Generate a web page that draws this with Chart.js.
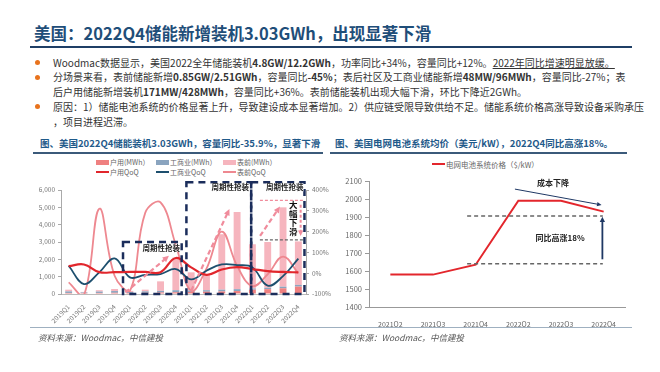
<!DOCTYPE html>
<html>
<head>
<meta charset="utf-8">
<script src="https://cdn.jsdelivr.net/npm/chart.js@4/dist/chart.umd.min.js"></script>
<style>
  body { margin: 0; background: #fff; font-family: "Noto Sans CJK SC", "Noto Sans", sans-serif; }
  #slide { position: relative; width: 660px; height: 372px; overflow: hidden; }
  .abs { position: absolute; white-space: nowrap; }
  .title { left: 34px; top: 22px; font-size: 16.5px; font-weight: bold; color: #1f4e79; line-height: 22px; }
  .rule { position: absolute; }
  .txt { left: 53px; font-size: 10px; color: #333; line-height: 14px; }
  .dot { position: absolute; left: 35px; width: 5px; height: 5px; border-radius: 50%; background: #e8731d; }
  .sub { font-size: 9.5px; font-weight: bold; color: #1f5a8a; line-height: 14px; top: 136px; }
  .src { font-size: 8.5px; font-style: italic; color: #555; top: 331px; line-height: 12px; }
  .lg { font-size: 7px; color: #666; line-height: 9px; }
  .sw { position: absolute; }
  canvas { position: absolute; }
</style>
</head>
<body>
<div id="slide">
  <div class="abs title">美国：2022Q4储能新增装机3.03GWh，出现显著下滑</div>
  <div class="rule" style="left:30px;top:46px;width:602px;height:2px;background:#1f3f66"></div>

  <div class="dot" style="top:60px"></div>
  <div class="abs txt" style="top:56px">Woodmac数据显示，美国2022全年储能装机<b>4.8GW/12.2GWh</b>，功率同比+34%，容量同比+12%。<u>2022年同比增速明显放缓。</u></div>
  <div class="dot" style="top:75px"></div>
  <div class="abs txt" style="top:70px">分场景来看，表前储能新增<b>0.85GW/2.51GWh</b>，容量同比<b>-45%</b>；表后社区及工商业储能新增<b>48MW/96MWh</b>，容量同比-27%；表</div>
  <div class="abs txt" style="top:85px">后户用储能新增装机<b>171MW/428MWh</b>，容量同比+36%。表前储能装机出现大幅下滑，环比下降近2GWh。</div>
  <div class="dot" style="top:104px"></div>
  <div class="abs txt" style="top:100px">原因：1）储能电池系统的价格显著上升，导致建设成本显著增加。2）供应链受限导致供给不足。储能系统价格高涨导致设备采购承压</div>
  <div class="abs txt" style="top:115px">，项目进程迟滞。</div>

  <div class="abs sub" style="left:40px">图、美国2022Q4储能装机3.03GWh，容量同比-35.9%，显著下滑</div>
  <div class="rule" style="left:33px;top:152px;width:290px;height:1.5px;background:#3b5a7a"></div>
  <div class="abs sub" style="left:335px">图、美国电网电池系统均价（美元/kW），2022Q4同比高涨18%。</div>
  <div class="rule" style="left:330px;top:152px;width:297px;height:1.5px;background:#3b5a7a"></div>

  <div id="legendLeft"></div>
  <div id="legendRight"></div>

  <canvas id="left" width="322" height="152" style="left:20px;top:176px"></canvas>
  <canvas id="right" width="300" height="155" style="left:330px;top:172px"></canvas>

  <div class="rule" style="left:30px;top:327px;width:602px;height:1px;background:#9fb0c0"></div>
  <div class="abs src" style="left:38px">资料来源：Woodmac，中信建投</div>
  <div class="abs src" style="left:339px">资料来源：Woodmac，中信建投</div>
</div>

<script>
// 左图：美国季度储能装机（MWh）及环比
const quarters = ['2019Q1', '2019Q2', '2019Q3', '2019Q4', '2020Q1', '2020Q2', '2020Q3', '2020Q4',
  '2021Q1', '2021Q2', '2021Q3', '2021Q4', '2022Q1', '2022Q2', '2022Q3', '2022Q4'];
const residentialMWh = [60, 50, 60, 70, 60, 70, 90, 100, 120, 130, 150, 170, 250, 280, 330, 428];
const commercialMWh = [90, 40, 80, 100, 60, 80, 90, 120, 80, 90, 100, 110, 70, 80, 90, 96];
const frontMWh = [100, 30, 80, 120, 60, 100, 550, 1880, 1050, 930, 3200, 4450, 2550, 2640, 4580, 2510];
const residentialQoQ = [34, 42, 5, 5, 6, 6, 5, 73, 28, -8, 18, 29, 20, 10, 6, 4];
const commercialQoQ = [36, -52, 4, 71, -20, -8, -4, 20, -30, 12, 42, 39, 28, -60, -14, 70];
const frontQoQ = [-44, -105, 310, -12, -85, 290, 340, 135, -85, 22, 200, 35, -62, -5, 80, 0];

// 右图：电网电池系统价格（$/kW）
const priceQuarters = ['2021Q2', '2021Q3', '2021Q4', '2022Q2', '2022Q3', '2022Q4'];
const priceValues = [1580, 1580, 1635, 1990, 1990, 1930];

const FONT = '"Noto Sans CJK SC", sans-serif';

function arrow(ctx, x1, y1, x2, y2, head) {
  const a = Math.atan2(y2 - y1, x2 - x1);
  ctx.beginPath();
  ctx.moveTo(x1, y1);
  ctx.lineTo(x2 - Math.cos(a) * head * 0.8, y2 - Math.sin(a) * head * 0.8);
  ctx.stroke();
  ctx.save();
  ctx.setLineDash([]);
  ctx.beginPath();
  ctx.moveTo(x2, y2);
  ctx.lineTo(x2 - head * Math.cos(a - 0.45), y2 - head * Math.sin(a - 0.45));
  ctx.lineTo(x2 - head * Math.cos(a + 0.45), y2 - head * Math.sin(a + 0.45));
  ctx.closePath();
  ctx.fill();
  ctx.restore();
}

// 周期性抢装 标注（类别序号 + 数值）
const surgeBoxes = [
  { from: 3.55, to: 7.38, top: 3000 },
  { from: 7.69, to: 11.92, top: 6450 },
  { from: 11.92, to: 15.4, top: 6450 }
];
const surgeLabels = [{ at: 6.05, v: 2650 }, { at: 10.55, v: 6150 }, { at: 14.12, v: 6150 }];
const surgeArrows = [
  { x1: 3.7, v1: 90, x2: 6.55, v2: 2200 },
  { x1: 8.0, v1: 190, x2: 10.5, v2: 4900 },
  { x1: 12.5, v1: 3350, x2: 13.8, v2: 5050 }
];

const leftNotes = {
  id: 'leftNotes',
  afterDatasetsDraw(chart) {
    const { ctx, scales: { x, y } } = chart;
    const px = i => x.getPixelForValue(i);
    const py = v => y.getPixelForValue(v);
    ctx.save();

    // 粉色虚线箭头
    ctx.strokeStyle = '#f08c9c';
    ctx.fillStyle = '#f08c9c';
    ctx.lineWidth = 2.2;
    ctx.setLineDash([5, 3]);
    surgeArrows.forEach(a => arrow(ctx, px(a.x1), py(a.v1), px(a.x2), py(a.v2), 7));

    // 大幅下滑 区域
    ctx.lineWidth = 1.2;
    ctx.setLineDash([3, 2]);
    ctx.beginPath();
    ctx.moveTo(px(12.49), py(5400)); ctx.lineTo(px(15.4), py(5400));
    ctx.stroke();
    ctx.strokeStyle = '#666';
    ctx.beginPath();
    ctx.moveTo(px(12.49), py(3120)); ctx.lineTo(px(15.4), py(3120));
    ctx.stroke();
    ctx.strokeStyle = '#f08c9c';
    ctx.lineWidth = 2;
    arrow(ctx, px(15.15), py(5150), px(15.15), py(3350), 6);

    ctx.setLineDash([]);
    ctx.fillStyle = '#111';
    ctx.font = 'bold 8.5px ' + FONT;
    ctx.textAlign = 'center';
    ctx.textBaseline = 'middle';
    ['大', '幅', '下', '滑'].forEach((c, k) => ctx.fillText(c, px(14.66), py(5140 - k * 520)));

    // 深蓝虚线框
    ctx.strokeStyle = '#1b2d5b';
    ctx.lineWidth = 2.5;
    ctx.setLineDash([7, 5]);
    surgeBoxes.forEach(b => {
      ctx.strokeRect(px(b.from), py(b.top), px(b.to) - px(b.from), py(0) - py(b.top));
    });

    ctx.setLineDash([]);
    ctx.font = 'bold 7.5px ' + FONT;
    surgeLabels.forEach(l => {
      const w = ctx.measureText('周期性抢装').width;
      ctx.fillStyle = 'rgba(255,255,255,0.7)';
      ctx.fillRect(px(l.at) - w / 2, py(l.v) - 4, w, 8);
      ctx.fillStyle = '#222';
      ctx.fillText('周期性抢装', px(l.at), py(l.v));
    });
    ctx.restore();
  }
};

const tickFont = size => ({ size: size, family: FONT });

const storageChart = new Chart(document.getElementById('left'), {
  type: 'bar',
  data: {
    labels: quarters,
    datasets: [
      { label: '户用(MWh）', data: residentialMWh, backgroundColor: '#ef8080', yAxisID: 'y', order: 2 },
      { label: '工商业(MWh）', data: commercialMWh, backgroundColor: '#8aa4bf', yAxisID: 'y', order: 2 },
      { label: '表前(MWh）', data: frontMWh, backgroundColor: '#f6b5be', yAxisID: 'y', order: 2 },
      { type: 'line', label: '户用QoQ', data: residentialQoQ, borderColor: '#e1262c', borderWidth: 2.2,
        yAxisID: 'y1', tension: 0.4, pointRadius: 0, order: 0 },
      { type: 'line', label: '工商业QoQ', data: commercialQoQ, borderColor: '#1d4f6e', borderWidth: 1.8,
        yAxisID: 'y1', tension: 0.4, pointRadius: 0, order: 1 },
      { type: 'line', label: '表前QoQ', data: frontQoQ, borderColor: '#ee8890', borderWidth: 1.8,
        yAxisID: 'y1', tension: 0.4, pointRadius: 0, order: 1 }
    ]
  },
  options: {
    responsive: false,
    animation: false,
    layout: { padding: { top: 14 } },
    categoryPercentage: 0.9,
    barPercentage: 0.5,
    plugins: { legend: { display: false }, tooltip: { enabled: false } },
    scales: {
      x: {
        stacked: true,
        grid: { display: false },
        border: { color: '#bbb' },
        ticks: { font: tickFont(6.5), color: '#777', minRotation: 45, maxRotation: 45, padding: 1, autoSkip: false },
        afterFit: s => { s.height = 34; }
      },
      y: {
        stacked: true, min: 0, max: 6000,
        ticks: { stepSize: 1000, font: tickFont(6.5), color: '#777', padding: 3 },
        grid: { drawOnChartArea: false, tickLength: 3, color: '#aaa' },
        border: { color: '#aaa' },
        afterFit: s => { s.width = 41; }
      },
      y1: {
        position: 'right', stacked: false, min: -100, max: 400,
        ticks: { stepSize: 50, font: tickFont(6.5), color: '#777', padding: 3, callback: v => v + '%' },
        grid: { drawOnChartArea: false, tickLength: 3, color: '#aaa' },
        border: { color: '#aaa' },
        afterFit: s => { s.width = 36; }
      }
    }
  },
  plugins: [leftNotes]
});

const rightNotes = {
  id: 'rightNotes',
  afterDatasetsDraw(chart) {
    const { ctx, scales: { x, y } } = chart;
    const px = i => x.getPixelForValue(i);
    const py = v => y.getPixelForValue(v);
    ctx.save();
    ctx.strokeStyle = '#666';
    ctx.lineWidth = 1.5;
    ctx.setLineDash([4, 3]);
    [1905, 1640].forEach(v => {
      ctx.beginPath();
      ctx.moveTo(px(1.8), py(v)); ctx.lineTo(px(4.98), py(v));
      ctx.stroke();
    });
    ctx.setLineDash([]);
    ctx.strokeStyle = '#1f3864';
    ctx.fillStyle = '#1f3864';
    ctx.lineWidth = 1.8;
    arrow(ctx, px(4.97), py(1665), px(4.97), py(1902), 6);
    ctx.lineWidth = 1;
    arrow(ctx, px(2.92), py(2055), px(4.95), py(1967), 5);

    ctx.fillStyle = '#222';
    ctx.font = 'bold 8px ' + FONT;
    ctx.textAlign = 'center';
    ctx.textBaseline = 'middle';
    ctx.fillText('同比高涨18%', px(3.98), py(1783));
    ctx.fillText('成本下降', px(3.81), py(2090));
    ctx.restore();
  }
};

const priceChart = new Chart(document.getElementById('right'), {
  type: 'line',
  data: {
    labels: priceQuarters,
    datasets: [{
      label: '电网电池系统价格（$/kW）',
      data: priceValues,
      borderColor: '#e3262c',
      borderWidth: 2,
      pointRadius: 0,
      tension: 0
    }]
  },
  options: {
    responsive: false,
    animation: false,
    layout: { padding: { top: 9, right: 5 } },
    plugins: { legend: { display: false }, tooltip: { enabled: false } },
    scales: {
      x: {
        offset: true,
        grid: { display: false },
        border: { color: '#999' },
        ticks: { font: tickFont(7), color: '#666', padding: 5, maxRotation: 0 },
        afterFit: s => { s.height = 20; }
      },
      y: {
        min: 1400, max: 2100,
        ticks: { stepSize: 100, font: tickFont(7.5), color: '#666', padding: 3, callback: v => String(v) },
        grid: { drawOnChartArea: false, tickLength: 4, color: '#999' },
        border: { color: '#999' },
        afterFit: s => { s.width = 39; }
      }
    }
  },
  plugins: [rightNotes]
});

// 图例（由数据集生成）
function buildLegend(host, chart, slots, size) {
  chart.data.datasets.forEach((ds, k) => {
    const s = slots[k];
    const isLine = ds.type === 'line' || chart.config.type === 'line';
    const sw = document.createElement('div');
    sw.className = 'sw';
    sw.style.left = s.x + 'px';
    sw.style.width = '13px';
    sw.style.height = isLine ? '2px' : '5px';
    sw.style.top = (s.y - (isLine ? 1 : 2.5)) + 'px';
    sw.style.background = isLine ? ds.borderColor : ds.backgroundColor;
    host.appendChild(sw);
    const t = document.createElement('div');
    t.className = 'abs lg';
    t.style.fontSize = size + 'px';
    t.style.left = (s.x + 14) + 'px';
    t.style.top = (s.y - 4.5) + 'px';
    t.textContent = ds.label;
    host.appendChild(t);
  });
}
buildLegend(document.getElementById('legendLeft'), storageChart, [
  { x: 96, y: 162 }, { x: 156, y: 162 }, { x: 223, y: 162 },
  { x: 96, y: 172 }, { x: 156, y: 172 }, { x: 223, y: 172 }
], 7);
buildLegend(document.getElementById('legendRight'), priceChart, [{ x: 432, y: 164 }], 7.5);
</script>
</body>
</html>
